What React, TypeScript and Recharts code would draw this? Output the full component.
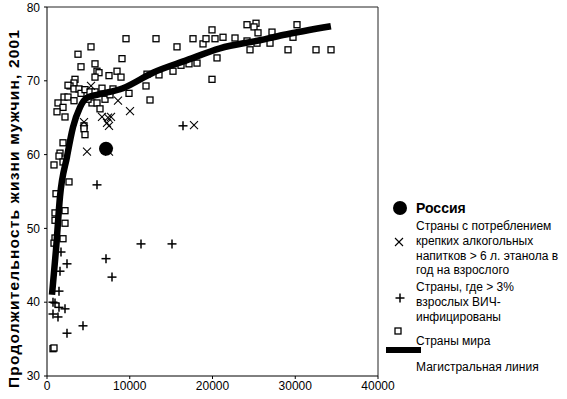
import { ScatterChart, Scatter, XAxis, YAxis, ReferenceLine } from "recharts";

// ВВП на душу населения (x) и продолжительность жизни мужчин (y)
const worldX = [
  5317, 3746, 4109, 5801, 6042, 6284, 5801, 7493, 8460, 8943, 9064, 9547, 13173, 15710, 17644,
  18853, 19215, 19940, 20303, 21270, 22720, 24170, 25258, 25016, 25500, 27191, 30213, 29729,
  26950, 25379, 24533, 29125, 32509, 34322, 20545, 19940, 18128, 17161, 16194, 15227, 13535,
  12085, 11964, 9910, 12448, 24170, 3384, 3263, 2780, 2538, 3263, 3867, 4109, 4592, 5197, 5801,
  2054, 2538, 3263, 1329, 1934, 1208, 2175, 5438, 6042, 6405, 7009, 4471, 4471, 4592, 1934,
  1571, 1450, 846, 1934, 2659, 1088, 967, 967, 2175, 2175, 967, 1934, 846, 725, 846, 4955, 6646,
  7613, 7976,
];
const worldY = [
  74.6, 73.6, 71.9, 72.3, 71.3, 71.1, 70.5, 70.7, 71.3, 70.5, 73.0, 75.7, 75.7, 74.6, 75.7,
  75.0, 75.7, 76.9, 75.7, 75.9, 75.8, 77.6, 77.8, 77.3, 76.5, 76.6, 77.6, 75.9,
  75.1, 75.1, 74.2, 74.2, 74.2, 74.2, 73.1, 70.2, 72.4, 72.3, 72.1, 71.3, 70.8,
  70.9, 69.3, 68.3, 67.4, 75.4, 70.2, 69.7, 69.3, 69.4, 68.9, 68.9, 68.3, 68.8, 68.5, 68.5,
  67.8, 67.8, 67.3, 67.0, 66.4, 65.8, 65.1, 67.0, 67.0, 66.2, 67.5, 63.9, 63.5, 62.7, 61.6,
  60.2, 59.8, 58.6, 59.0, 56.3, 54.7, 52.1, 51.1, 52.4, 50.7, 48.7, 48.6, 48.0, 33.7, 33.8, 67.5, 69.0,
  68.1, 68.9,
];

const alcoholX = [5317, 8580, 10030, 6646, 7372, 7734, 7251, 7493, 4471, 4834, 17765, 7493];
const alcoholY = [69.3, 67.3, 65.9, 65.1, 65.0, 65.1, 64.3, 63.9, 64.4, 60.4, 64.0, 60.4];

const hivX = [6042, 11360, 15106, 7130, 7855, 16435, 1692, 2417, 1571, 1450, 725, 967, 1450, 2175, 725, 1329, 4350, 2417];
const hivY = [55.9, 47.9, 47.9, 45.9, 43.4, 63.9, 46.8, 45.2, 44.2, 41.5, 40.0, 39.9, 39.3, 39.1, 38.4, 38.0, 36.8, 35.8];

const russiaX = [7130];
const russiaY = [60.8];

const trendX = [604, 1087, 1570, 2416, 3141, 3986, 4832, 6040, 9181, 12805, 16912, 20898, 25730, 28509, 34307];
const trendY = [41.0, 47.1, 54.3, 59.7, 63.7, 66.4, 67.7, 68.1, 69.0, 71.1, 72.8, 74.4, 75.5, 76.2, 77.4];

const xTicks = [0, 10000, 20000, 30000, 40000];
const yTicks = [30, 40, 50, 60, 70, 80];

const toPoints = (xs: number[], ys: number[]) => xs.map((x, i) => ({ x, y: ys[i] }));

const FONT = "'Liberation Sans', Arial, sans-serif";

const Square = (p: any) =>
  p.cx == null ? <g /> : (
    <rect x={p.cx - 3} y={p.cy - 3} width={6} height={6} fill="#fff" stroke="#000" strokeWidth={1.3} />
  );

const XMark = (p: any) =>
  p.cx == null ? <g /> : (
    <g stroke="#000" strokeWidth={1.1}>
      <line x1={p.cx - 4} y1={p.cy - 4} x2={p.cx + 4} y2={p.cy + 4} />
      <line x1={p.cx - 4} y1={p.cy + 4} x2={p.cx + 4} y2={p.cy - 4} />
    </g>
  );

const Plus = (p: any) =>
  p.cx == null ? <g /> : (
    <g stroke="#000" strokeWidth={1.5}>
      <line x1={p.cx - 4.5} y1={p.cy} x2={p.cx + 4.5} y2={p.cy} />
      <line x1={p.cx} y1={p.cy - 4.5} x2={p.cx} y2={p.cy + 4.5} />
    </g>
  );

const Dot = (p: any) => (p.cx == null ? <g /> : <circle cx={p.cx} cy={p.cy} r={7} fill="#000" />);

const YTitle = () => (
  <text
    x={13}
    y={209}
    transform="rotate(-90, 13, 209)"
    textAnchor="middle"
    dominantBaseline="central"
    fontSize={15.5}
    fontWeight="bold"
    textLength={358}
    lengthAdjust="spacing"
    fontFamily={FONT}
    fill="#000"
  >
    Продолжительность жизни мужчин, 2001
  </text>
);

function LegendBox() {
  const t = { fontSize: 12, fontFamily: FONT, fill: "#000", dominantBaseline: "central" as const };
  return (
    <svg width={187} height={190} style={{ position: "absolute", left: 380, top: 195 }}>
      <circle cx={20} cy={13} r={7} fill="#000" />
      <text x={36} y={13} {...t} fontSize={14} fontWeight="bold">Россия</text>

      <g stroke="#000" strokeWidth={1.1}>
        <line x1={15} y1={43} x2={23} y2={51} />
        <line x1={15} y1={51} x2={23} y2={43} />
      </g>
      <text x={36} y={31} {...t}>Страны с потреблением</text>
      <text x={36} y={46} {...t}>крепких алкогольных</text>
      <text x={36} y={61} {...t}>напитков &gt; 6 л. этанола в</text>
      <text x={36} y={75} {...t}>год на взрослого</text>

      <g stroke="#000" strokeWidth={1.5}>
        <line x1={15.5} y1={103} x2={24.5} y2={103} />
        <line x1={20} y1={98.5} x2={20} y2={107.5} />
      </g>
      <text x={36} y={92} {...t}>Страны, где &gt; 3%</text>
      <text x={36} y={107} {...t}>взрослых ВИЧ-</text>
      <text x={36} y={122} {...t}>инфицированы</text>

      <rect x={15} y={133} width={6} height={6} fill="#fff" stroke="#000" strokeWidth={1.3} />
      <text x={36} y={146} {...t}>Страны мира</text>

      <rect x={6} y={152} width={35} height={6} fill="#000" />
      <text x={36} y={172} {...t}>Магистральная линия</text>
    </svg>
  );
}

export default function App() {
  const tick = { fill: "#000", fontSize: 12, fontFamily: FONT };
  return (
    <div style={{ position: "absolute", left: 0, top: 0, width: 567, height: 399, background: "#fff" }}>
      <ScatterChart width={567} height={399} margin={{ top: 7, right: 189, bottom: 3, left: 17 }}>
        <XAxis
          type="number"
          dataKey="x"
          domain={[0, 40000]}
          ticks={xTicks}
          tick={tick}
          tickSize={3}
          tickMargin={2}
          height={20}
          stroke="#000"
          allowDataOverflow
        />
        <YAxis
          type="number"
          dataKey="y"
          domain={[30, 80]}
          ticks={yTicks}
          tick={tick}
          tickSize={3}
          tickMargin={4}
          width={30}
          stroke="#000"
          label={<YTitle />}
          allowDataOverflow
        />
        <ReferenceLine y={80} stroke="#222" strokeWidth={1} />
        <ReferenceLine x={40000} stroke="#222" strokeWidth={1} />
        <Scatter data={toPoints(worldX, worldY)} shape={Square} isAnimationActive={false} />
        <Scatter
          data={toPoints(trendX, trendY)}
          line={{ stroke: "#000", strokeWidth: 6.5 }}
          lineJointType="monotoneX"
          shape={() => <g />}
          isAnimationActive={false}
        />
        <Scatter data={toPoints(alcoholX, alcoholY)} shape={XMark} isAnimationActive={false} />
        <Scatter data={toPoints(hivX, hivY)} shape={Plus} isAnimationActive={false} />
        <Scatter data={toPoints(russiaX, russiaY)} shape={Dot} isAnimationActive={false} />
      </ScatterChart>
      <LegendBox />
    </div>
  );
}
